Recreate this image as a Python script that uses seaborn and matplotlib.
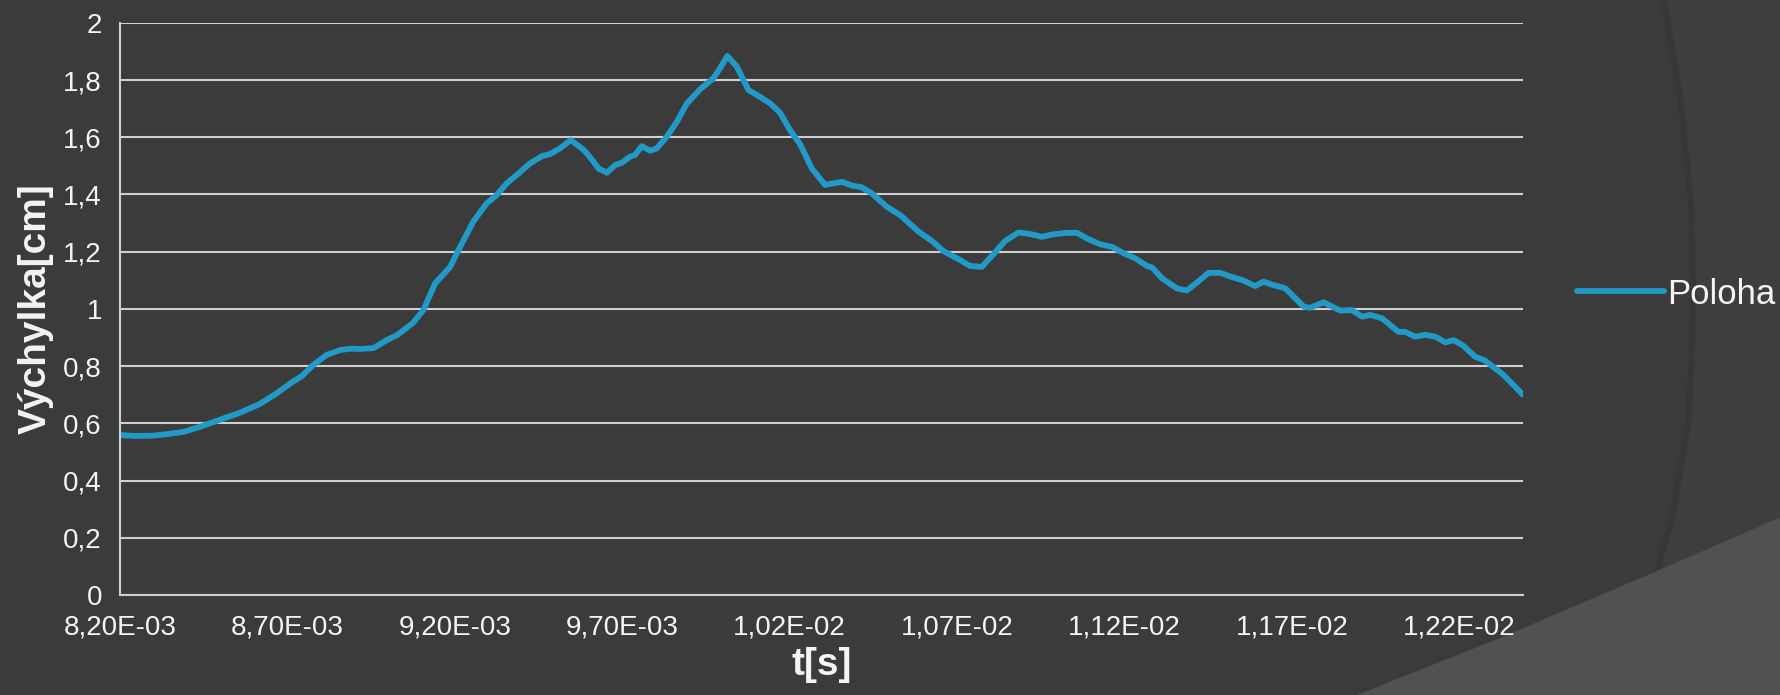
import numpy as np
import matplotlib
matplotlib.use("Agg")
import matplotlib.pyplot as plt
import matplotlib.ticker as mticker
from matplotlib.patches import Polygon
from matplotlib.lines import Line2D
import seaborn as sns

# -----------------------------------
# Data, time in ms
t_ms = [8.200, 8.245, 8.299, 8.339, 8.389, 8.439, 8.509, 8.558, 8.618, 8.668,
        8.713, 8.743, 8.777, 8.817, 8.857, 8.887, 8.917, 8.957, 8.997, 9.027,
        9.076, 9.106, 9.141, 9.186, 9.211, 9.255, 9.295, 9.325, 9.355, 9.385,
        9.425, 9.460, 9.484, 9.514, 9.546, 9.584, 9.604, 9.629, 9.654, 9.679,
        9.699, 9.723, 9.738, 9.758, 9.783, 9.803, 9.833, 9.863, 9.893, 9.932,
        9.972, 9.992, 10.014, 10.042, 10.077, 10.102, 10.142, 10.171, 10.201, 10.231,
        10.266, 10.306, 10.321, 10.356, 10.386, 10.415, 10.445, 10.490, 10.530, 10.585,
        10.625, 10.659, 10.704, 10.739, 10.774, 10.809, 10.843, 10.883, 10.918, 10.953,
        10.983, 11.028, 11.058, 11.088, 11.127, 11.162, 11.202, 11.232, 11.267, 11.282,
        11.312, 11.356, 11.386, 11.416, 11.451, 11.486, 11.516, 11.551, 11.590, 11.615,
        11.645, 11.680, 11.735, 11.755, 11.794, 11.844, 11.879, 11.909, 11.934, 11.969,
        12.018, 12.038, 12.068, 12.098, 12.128, 12.158, 12.183, 12.212, 12.247, 12.277,
        12.332, 12.390]
poloha = [0.559, 0.556, 0.557, 0.562, 0.570, 0.588, 0.617, 0.637, 0.668, 0.705,
          0.743, 0.765, 0.804, 0.839, 0.856, 0.861, 0.860, 0.863, 0.891, 0.908,
          0.952, 0.996, 1.089, 1.147, 1.206, 1.305, 1.369, 1.398, 1.439, 1.468,
          1.509, 1.534, 1.541, 1.561, 1.590, 1.557, 1.530, 1.491, 1.476, 1.503,
          1.511, 1.532, 1.538, 1.569, 1.553, 1.561, 1.602, 1.654, 1.718, 1.767,
          1.806, 1.841, 1.884, 1.847, 1.765, 1.748, 1.718, 1.686, 1.625, 1.576,
          1.491, 1.433, 1.437, 1.444, 1.431, 1.425, 1.404, 1.357, 1.328, 1.270,
          1.237, 1.202, 1.174, 1.150, 1.147, 1.192, 1.237, 1.267, 1.262, 1.252,
          1.260, 1.266, 1.266, 1.246, 1.226, 1.217, 1.192, 1.177, 1.150, 1.145,
          1.107, 1.072, 1.064, 1.092, 1.126, 1.126, 1.113, 1.101, 1.080, 1.095,
          1.083, 1.072, 1.008, 1.004, 1.023, 0.994, 0.996, 0.973, 0.979, 0.967,
          0.920, 0.920, 0.903, 0.909, 0.903, 0.883, 0.891, 0.871, 0.833, 0.819,
          0.769, 0.700]

x_ticks_ms = [8.2, 8.7, 9.2, 9.7, 10.2, 10.7, 11.2, 11.7, 12.2]
y_ticks = [0, 0.2, 0.4, 0.6, 0.8, 1.0, 1.2, 1.4, 1.6, 1.8, 2.0]

t = np.array(t_ms) * 1e-3

# -----------------------------------
# Style
bg = "#3b3b3b"
grid_c = "#cfcfcf"
txt_c = "#f4f4f4"
line_c = "#219ac7"

sns.set_style("dark")
plt.rcParams['font.family'] = ['Liberation Sans', 'DejaVu Sans']

W, H = 1781, 695
fig = plt.figure(figsize=(W / 100, H / 100), dpi=100, facecolor=bg)

# background decoration (theme shapes)
def px(pts):
    return [(x / W, 1 - y / H) for x, y in pts]

arc = [(1667, 0), (1684, 100), (1694, 200), (1697, 300), (1692, 420),
       (1675, 520), (1659, 575), (1640, 640), (1618, 695)]
fig.patches.append(Polygon(px(arc + [(W, H), (W, 0)]), closed=True,
                           transform=fig.transFigure, facecolor="#3e3e3e",
                           edgecolor="none", zorder=-3))
arc_xy = np.array(px(arc))
fig.lines.append(Line2D(arc_xy[:, 0] - 0.002, arc_xy[:, 1], transform=fig.transFigure,
                        color="#353535", linewidth=4, alpha=0.6, zorder=-2))
wedge = [(1357, 695), (1500, 638), (1650, 574), (1781, 517), (1781, 695)]
fig.patches.append(Polygon(px(wedge), closed=True, transform=fig.transFigure,
                           facecolor="#515151", edgecolor="none", zorder=-1))

ax = fig.add_axes([120 / W, 1 - 595 / H, (1523 - 120) / W, (595 - 22.8) / H])
ax.set_facecolor("none")

sns.lineplot(x=t, y=poloha, ax=ax, color=line_c, linewidth=4.2,
             label="Poloha", sort=False, solid_joinstyle="round",
             solid_capstyle="round")

ax.set_xlim(8.2e-3, 12.39e-3)
ax.set_ylim(0, 2)
ax.set_xticks(np.array(x_ticks_ms) * 1e-3)
ax.set_yticks(y_ticks)
ax.xaxis.set_major_formatter(
    mticker.FuncFormatter(lambda v, p: f"{v:.2E}".replace(".", ",")))
ax.yaxis.set_major_formatter(
    mticker.FuncFormatter(lambda v, p: f"{v:g}".replace(".", ",")))

ax.grid(axis="y", color=grid_c, linewidth=1.5)
ax.grid(axis="x", visible=False)
ax.set_axisbelow(True)
for s in ["top", "right"]:
    ax.spines[s].set_visible(False)
for s in ["left", "bottom"]:
    ax.spines[s].set_visible(True)
    ax.spines[s].set_color(grid_c)
    ax.spines[s].set_linewidth(1.5)

ax.tick_params(axis="both", colors=grid_c, length=5, width=1.5,
               labelcolor=txt_c, labelsize=20, direction="out")
ax.tick_params(axis="y", pad=8)
ax.tick_params(axis="x", pad=9)

ax.set_xlabel("t[s]", fontsize=28, fontweight="bold", color=txt_c, labelpad=5)
ax.set_ylabel("Výchylka[cm]", fontsize=28, fontweight="bold", color=txt_c,
              labelpad=7)

leg = ax.legend(loc="center left", bbox_to_anchor=(1563 / W, 1 - 294 / H),
                bbox_transform=fig.transFigure, frameon=False, fontsize=25,
                handlelength=2.5, handletextpad=0.1, borderaxespad=0)
for txt in leg.get_texts():
    txt.set_color(txt_c)

fig.savefig("out.png", dpi=100, facecolor=bg)
